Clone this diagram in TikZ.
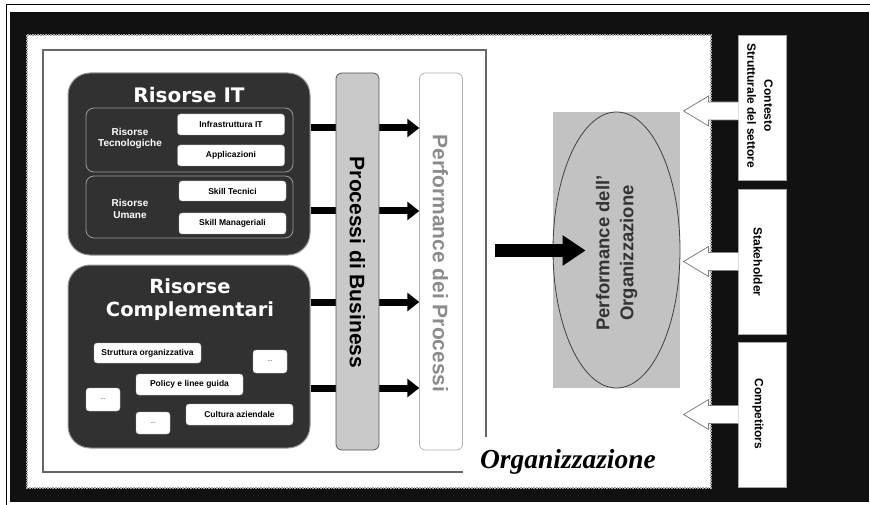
\documentclass[tikz,border=0pt]{standalone}
\usepackage{fontspec}
\setmainfont{Liberation Sans}
\newfontfamily\titlefont{DejaVu Sans}
\newfontfamily\orgfont{Liberation Serif}
\usetikzlibrary{arrows.meta,shapes.geometric}

\definecolor{frameblack}{HTML}{111111}
\definecolor{resdark}{HTML}{313131}
\definecolor{resline}{HTML}{9A9A9A}
\definecolor{procgray}{HTML}{C9C9C9}
\definecolor{orggray}{HTML}{C2C2C2}
\definecolor{perftext}{HTML}{8C8C8C}

\tikzset{
  resbox/.style={draw=resline, line width=1pt, fill=resdark, rounded corners=22pt,
    minimum width=242pt, inner sep=0pt},
  subbox/.style={draw=resline, line width=0.8pt, rounded corners=8pt,
    minimum width=207pt, inner sep=0pt},
  restitle/.style={text=white, align=center, font=\titlefont\bfseries\fontsize{20}{23}\selectfont},
  sublabel/.style={text=white, align=center, font=\bfseries\fontsize{10}{11.5}\selectfont},
  item/.style={draw=gray!60, fill=white, rounded corners=3pt, minimum width=107pt,
    minimum height=21pt, inner sep=0pt, font=\bfseries\fontsize{8.5}{10}\selectfont},
  dotsbox/.style={item, minimum width=34pt, minimum height=23pt,
    font=\bfseries\fontsize{6}{7}\selectfont, text=gray},
  bar/.style={rounded corners=6pt, minimum width=43pt, minimum height=377pt, inner sep=0pt},
  bartext/.style={rotate=-90, font=\bfseries\fontsize{21}{24}\selectfont},
  flow/.style={line width=7pt, -{Triangle[length=12pt,width=18pt]}},
  sidebox/.style={draw=gray!70, line width=0.8pt, fill=white, minimum width=48pt,
    minimum height=145pt, inner sep=0pt},
  sidetext/.style={rotate=-90, align=center, font=\bfseries\fontsize{12}{17}\selectfont},
  pics/inarrow/.style={code={
    \fill[white] (1,-9) -- (-29,-9) -- (-29,-15) -- (-54,0) -- (-29,15) -- (-29,9) -- (1,9) -- cycle;
    \draw[gray, line width=0.8pt, line join=miter]
      (0,-9) -- (-29,-9) -- (-29,-15) -- (-54,0) -- (-29,15) -- (-29,9) -- (0,9);
  }}
}

\begin{document}
\begin{tikzpicture}[x=1pt,y=-1pt]
\useasboundingbox (0,0) rectangle (870,505);
\fill[white] (0,0) rectangle (870,505);

% outer frame and black surround
\draw[line width=0.8pt] (6,505) -- (6,4) -- (870,4);
\fill[frameblack] (10,12) rectangle (869,502);

% white organisation panel with its ragged edge
\draw[gray!70, densely dotted, line width=1.6pt, fill=white] (27,35) rectangle (711,488);

% inner boundary, open at the lower right corner for the label
\draw[gray!80!black, line width=1.1pt] (463,472) -- (43,472) -- (43,50) -- (486,50) -- (486,437);
\node[anchor=base, font=\orgfont\bfseries\itshape\fontsize{27.5}{30}\selectfont] (orglabel)
  at (568,468) {Organizzazione};

% row heights of the flows
\coordinate (r1) at (0,128);
\coordinate (r2) at (0,211);
\coordinate (r3) at (0,302);
\coordinate (r4) at (0,388);

% IT resources
\node[resbox, minimum height=182pt] (rit) at (189,164) {};
\node[restitle] (ittitle) at (189,95) {Risorse IT};
\node[subbox, minimum height=64pt] (tecn) at (189.5,140) {};
\node[subbox, minimum height=62pt] (uman) at (189.5,207) {};
\node[sublabel] (tecnlab) at (130,138.5) {Risorse\\Tecnologiche};
\node[sublabel] (umanlab) at (130,209) {Risorse\\Umane};
\node[item] (infra) at (231,124.5) {Infrastruttura IT};
\node[item] (appl) at (231,155.5) {Applicazioni};
\node[item, minimum height=20pt] (sktec) at (232.5,191) {Skill Tecnici};
\node[item] (skman) at (232.5,223.5) {Skill Manageriali};

% complementary resources
\node[resbox, minimum height=183pt] (rcomp) at (189,356.5) {};
\node[restitle, font=\titlefont\bfseries\fontsize{19.5}{23}\selectfont] (comptitle)
  at (190,300) {Risorse\\Complementari};
\node[item, minimum height=20pt] (strutt) at (147.5,353) {Struttura organizzativa};
\node[dotsbox] (dotsa) at (270,361.5) {...};
\node[item] (policy) at (189.5,384.5) {Policy e linee guida};
\node[dotsbox] (dotsb) at (103,399.5) {...};
\node[dotsbox, minimum height=22pt] (dotsc) at (153,423) {...};
\node[item] (cultura) at (239.5,414.5) {Cultura aziendale};

% business processes and process performance
\node[bar, draw=white] (perf) at (441,261.5) {};
\draw[flow] (rit.east |- r1) -- (perf.west |- r1);
\draw[flow] (rit.east |- r2) -- (perf.west |- r2);
\draw[flow] (rcomp.east |- r3) -- (perf.west |- r3);
\draw[flow] (rcomp.east |- r4) -- (perf.west |- r4);
\node[bar, draw=gray!60, line width=0.8pt] at (perf) {};
\node[bar, draw=gray!70!black, line width=0.8pt, fill=procgray] (proc) at (357.5,261.5) {};
\node[bartext] (proctext) at (357.5,262.5) {Processi di Business};
\node[bartext, text=perftext] (perftxt) at (440.5,263.5) {Performance dei Processi};

% organisational performance
\node[fill=orggray, minimum width=127pt, minimum height=276pt, inner sep=0pt] (orgbg) at (616.5,250) {};
\node[ellipse, draw=gray!50!black, line width=0.8pt, fill=orggray, minimum width=127pt,
  minimum height=276pt, inner sep=0pt] (orgperf) at (616.5,250) {};
\node[rotate=90, align=center, text=black!80, font=\bfseries\fontsize{18.5}{24}\selectfont]
  (orgtext) at (616.5,253) {Performance dell'\\Organizzazione};
\coordinate (bigstart) at (495,250.5);
\draw[line width=13pt, -{Triangle[length=23pt,width=29pt]}] (bigstart) -- ([xshift=33pt]orgperf.west |- bigstart);

% external factors
\node[sidebox] (ctx) at (762,107.5) {};
\node[sidebox] (stk) at (762,261.5) {};
\node[sidebox] (cmp) at (762,414.5) {};
\node[sidetext] (ctxtext) at (760,106) {Contesto\\Strutturale del settore};
\node[sidetext] (stktext) at (758,262) {Stakeholder};
\node[sidetext] (cmptext) at (758,414) {Competitors};
\pic at ([yshift=-3.5pt]ctx.west) {inarrow};
\pic at (stk.west) {inarrow};
\pic at (cmp.west) {inarrow};
\end{tikzpicture}
\end{document}
